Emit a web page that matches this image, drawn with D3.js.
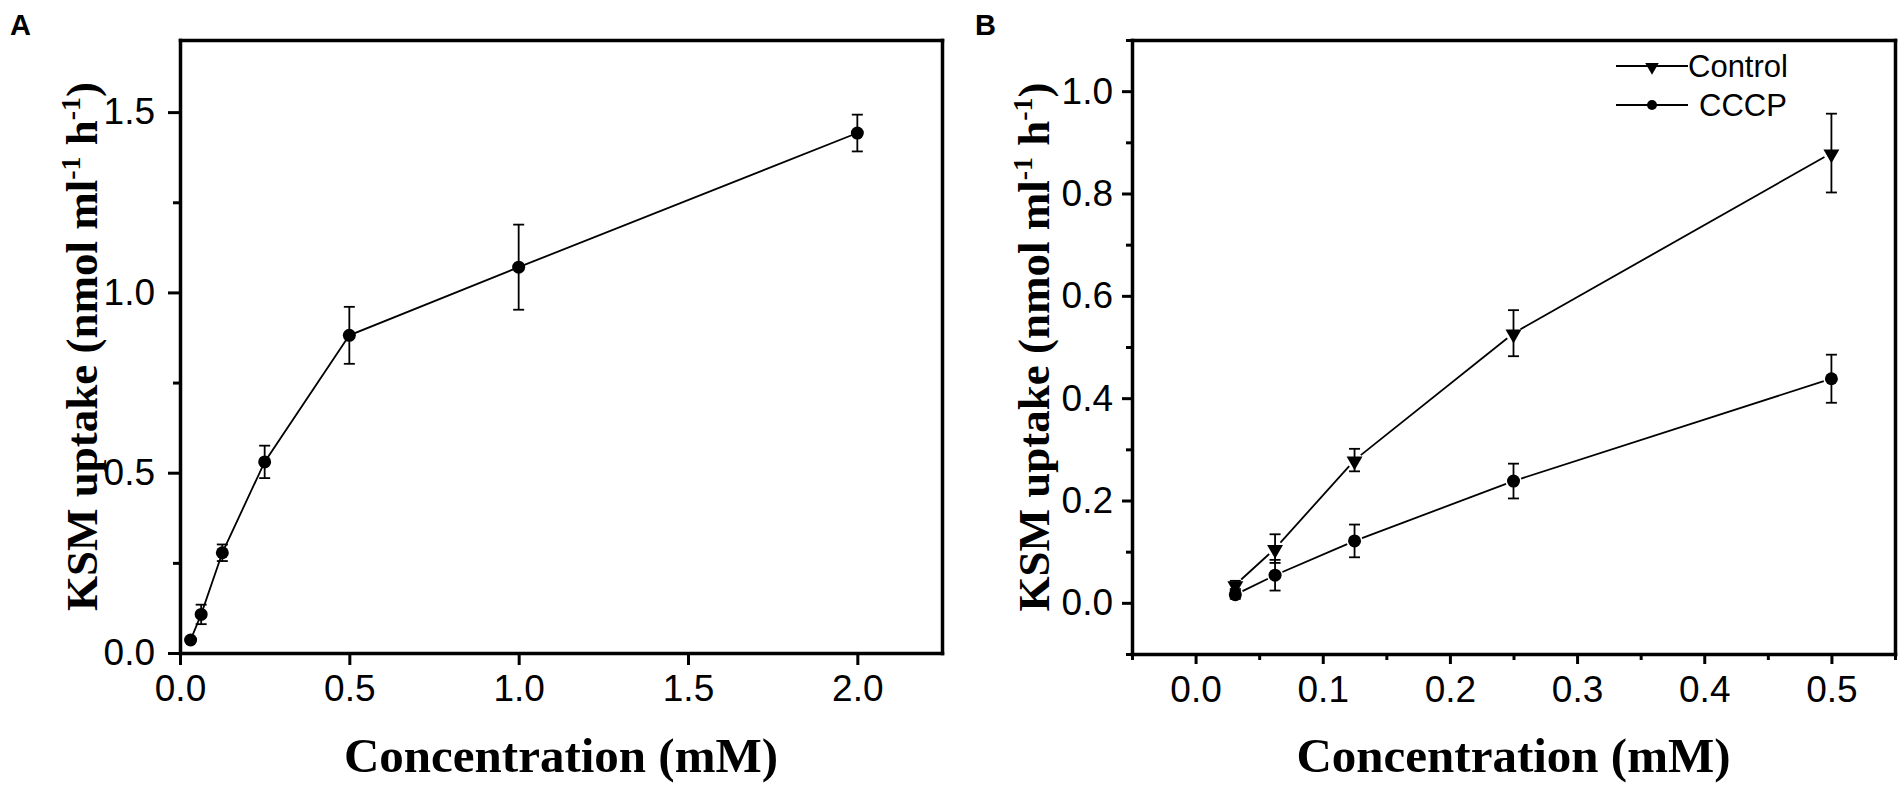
<!DOCTYPE html>
<html>
<head>
<meta charset="utf-8">
<script src="https://cdn.jsdelivr.net/npm/d3@7"></script>
<style>
  body { margin: 0; background: #fff; }
  text { fill: #000; }
</style>
</head>
<body>
<svg width="1904" height="792"></svg>
<script>

// panel A : single series
let concA = [0.03125, 0.0625, 0.125, 0.25, 0.5, 1, 2];
let uptakeA = [0.036, 0.107, 0.278, 0.53, 0.881, 1.07, 1.442];
let errA = [0.006, 0.027, 0.023, 0.045, 0.079, 0.118, 0.051];

// panel B : control vs CCCP
let concB = [0.03125, 0.0625, 0.125, 0.25, 0.5];
let control = [0.035, 0.106, 0.279, 0.527, 0.879];
let controlErr = [0.008, 0.028, 0.022, 0.045, 0.077];
let cccp = [0.016, 0.054, 0.121, 0.238, 0.438];
let cccpErr = [0.008, 0.03, 0.032, 0.034, 0.047];

let xTicksA = [0, 0.5, 1, 1.5, 2];
let yTicksA = [0, 0.5, 1, 1.5];
let yMinorA = [0.25, 0.75, 1.25];
let xTicksB = [0, 0.1, 0.2, 0.3, 0.4, 0.5];
let xMinorB = [-0.05, 0.05, 0.15, 0.25, 0.35, 0.45, 0.55];
let yTicksB = [0, 0.2, 0.4, 0.6, 0.8, 1.0];
let yMinorB = [-0.1, 0.1, 0.3, 0.5, 0.7, 0.9, 1.1];
let legendNames = ['Control', 'CCCP'];

let svg = d3.select('svg');
let fmt = d3.format('.1f');

function frame(g, x, y, opt) {
  let x0 = x.range()[0], x1 = x.range()[1];
  let y0 = y.range()[0], y1 = y.range()[1];

  // minor ticks first so the main axis sits on top
  if (opt.yMinor) {
    g.append('g')
     .attr('transform', 'translate(' + x0 + ',0)')
     .call(d3.axisLeft(y).tickValues(opt.yMinor).tickSize(opt.minor).tickFormat(''))
     .call(s => s.select('.domain').remove());
  }
  if (opt.xMinor) {
    g.append('g')
     .attr('transform', 'translate(0,' + y0 + ')')
     .call(d3.axisBottom(x).tickValues(opt.xMinor).tickSize(opt.minor).tickFormat(''))
     .call(s => s.select('.domain').remove());
  }

  let xa = g.append('g')
            .attr('transform', 'translate(0,' + y0 + ')')
            .call(d3.axisBottom(x).tickValues(opt.xTicks).tickSize(opt.major)
                    .tickSizeOuter(0).tickPadding(opt.xPad).tickFormat(fmt));
  let ya = g.append('g')
            .attr('transform', 'translate(' + x0 + ',0)')
            .call(d3.axisLeft(y).tickValues(opt.yTicks).tickSize(opt.major)
                    .tickSizeOuter(0).tickPadding(opt.yPad).tickFormat(fmt));

  g.append('g')
   .attr('transform', 'translate(0,' + y1 + ')')
   .call(d3.axisTop(x).tickValues([]).tickSizeOuter(0));
  g.append('g')
   .attr('transform', 'translate(' + x1 + ',0)')
   .call(d3.axisRight(y).tickValues([]).tickSizeOuter(0));

  g.selectAll('.domain').attr('stroke', '#000').attr('stroke-width', 3.5)
   .attr('stroke-linecap', 'square');
  g.selectAll('.tick line').attr('stroke', '#000').attr('stroke-width', 3);
  g.selectAll('.tick text')
   .attr('font-family', '"Liberation Sans", Arial, sans-serif')
   .attr('font-size', 37)
   .attr('fill', '#000');

  // axis titles
  g.append('text')
   .attr('x', (x0 + x1) / 2)
   .attr('y', 772)
   .attr('text-anchor', 'middle')
   .attr('font-family', '"Liberation Serif", "Times New Roman", serif')
   .attr('font-weight', 'bold')
   .attr('font-size', 49)
   .text('Concentration (mM)');

  let yt = g.append('text')
            .attr('transform', 'translate(' + (x0 - 83) + ',' + ((y0 + y1) / 2) + ') rotate(-90)')
            .attr('text-anchor', 'middle')
            .attr('font-family', '"Liberation Serif", "Times New Roman", serif')
            .attr('font-weight', 'bold')
            .attr('font-size', 45);
  yt.append('tspan').text('KSM uptake (nmol ml');
  yt.append('tspan').attr('font-size', 28).attr('dy', -17).text('-1');
  yt.append('tspan').attr('dy', 17).text(' h');
  yt.append('tspan').attr('font-size', 28).attr('dy', -17).text('-1');
  yt.append('tspan').attr('dy', 17).text(')');
}

function errorBars(g, xs, ys, es, x, y) {
  let cap = 5.5;
  let eb = g.append('g').attr('stroke', '#000').attr('stroke-width', 1.8);
  xs.forEach(function(d, i) {
    let cx = x(d);
    eb.append('line').attr('x1', cx).attr('x2', cx)
      .attr('y1', y(ys[i] - es[i])).attr('y2', y(ys[i] + es[i]));
    eb.append('line').attr('x1', cx - cap).attr('x2', cx + cap)
      .attr('y1', y(ys[i] + es[i])).attr('y2', y(ys[i] + es[i]));
    eb.append('line').attr('x1', cx - cap).attr('x2', cx + cap)
      .attr('y1', y(ys[i] - es[i])).attr('y2', y(ys[i] - es[i]));
  });
}

// segments between markers, with a small gap round each symbol (Origin style)
function gappedLine(g, xs, ys, x, y, gap) {
  for (let i = 0; i < xs.length - 1; i++) {
    let ax = x(xs[i]), ay = y(ys[i]), bx = x(xs[i + 1]), by = y(ys[i + 1]);
    let len = Math.hypot(bx - ax, by - ay);
    let ux = (bx - ax) / len, uy = (by - ay) / len;
    g.append('line')
     .attr('x1', ax + ux * gap).attr('y1', ay + uy * gap)
     .attr('x2', bx - ux * gap).attr('y2', by - uy * gap)
     .attr('stroke', '#000').attr('stroke-width', 1.8);
  }
}

let triDown = d3.symbol().type(d3.symbolTriangle).size(110);

// ---------- panel A ----------
let xA = d3.scaleLinear().domain([0, 2.25]).range([180, 942]);
let yA = d3.scaleLinear().domain([0, 1.7]).range([653, 40]);
let gA = svg.append('g');

frame(gA, xA, yA, {
  xTicks: xTicksA, yTicks: yTicksA, yMinor: yMinorA,
  major: 12, minor: 7, xPad: 10, yPad: 13
});

let lineA = d3.line().x((d, i) => xA(concA[i])).y(d => yA(d));
gA.append('path')
  .attr('d', lineA(uptakeA))
  .attr('fill', 'none')
  .attr('stroke', '#000')
  .attr('stroke-width', 1.8);

errorBars(gA, concA, uptakeA, errA, xA, yA);

gA.selectAll('circle.ptA')
  .data(uptakeA)
  .enter()
  .append('circle')
  .attr('cx', (d, i) => xA(concA[i]))
  .attr('cy', d => yA(d))
  .attr('r', 6.5)
  .attr('fill', '#000');

svg.append('text')
   .attr('x', 10).attr('y', 35)
   .attr('font-family', '"Liberation Sans", Arial, sans-serif')
   .attr('font-weight', 'bold')
   .attr('font-size', 29)
   .text('A');

// ---------- panel B ----------
let xB = d3.scaleLinear().domain([-0.05, 0.55]).range([1132, 1895]);
let yB = d3.scaleLinear().domain([-0.1, 1.1]).range([654, 40]);
let gB = svg.append('g');

frame(gB, xB, yB, {
  xTicks: xTicksB, xMinor: xMinorB, yTicks: yTicksB, yMinor: yMinorB,
  major: 10, minor: 6, xPad: 12, yPad: 9
});

gappedLine(gB, concB, control, xB, yB, 8);
gappedLine(gB, concB, cccp, xB, yB, 8);
errorBars(gB, concB, control, controlErr, xB, yB);
errorBars(gB, concB, cccp, cccpErr, xB, yB);

gB.selectAll('path.ctl')
  .data(control)
  .enter()
  .append('path')
  .attr('d', triDown)
  .attr('transform', (d, i) => 'translate(' + xB(concB[i]) + ',' + (yB(d) + 1) + ') rotate(180)')
  .attr('fill', '#000');

gB.selectAll('circle.cp')
  .data(cccp)
  .enter()
  .append('circle')
  .attr('cx', (d, i) => xB(concB[i]))
  .attr('cy', d => yB(d))
  .attr('r', 6.5)
  .attr('fill', '#000');

svg.append('text')
   .attr('x', 975).attr('y', 35)
   .attr('font-family', '"Liberation Sans", Arial, sans-serif')
   .attr('font-weight', 'bold')
   .attr('font-size', 29)
   .text('B');

// legend
let leg = gB.append('g');
let legY = [66, 105];
let legTextX = [1688, 1699];
legendNames.forEach(function(name, i) {
  leg.append('line')
     .attr('x1', 1616).attr('x2', 1688)
     .attr('y1', legY[i]).attr('y2', legY[i])
     .attr('stroke', '#000').attr('stroke-width', 1.8);
  if (i == 0) {
    leg.append('path')
       .attr('d', d3.symbol().type(d3.symbolTriangle).size(80))
       .attr('transform', 'translate(1652,' + (legY[i] + 1) + ') rotate(180)')
       .attr('fill', '#000');
  } else {
    leg.append('circle')
       .attr('cx', 1652).attr('cy', legY[i]).attr('r', 5)
       .attr('fill', '#000');
  }
  leg.append('text')
     .attr('x', legTextX[i])
     .attr('y', legY[i] + 11)
     .attr('font-family', '"Liberation Sans", Arial, sans-serif')
     .attr('font-size', 31)
     .text(name);
});

</script>
</body>
</html>
